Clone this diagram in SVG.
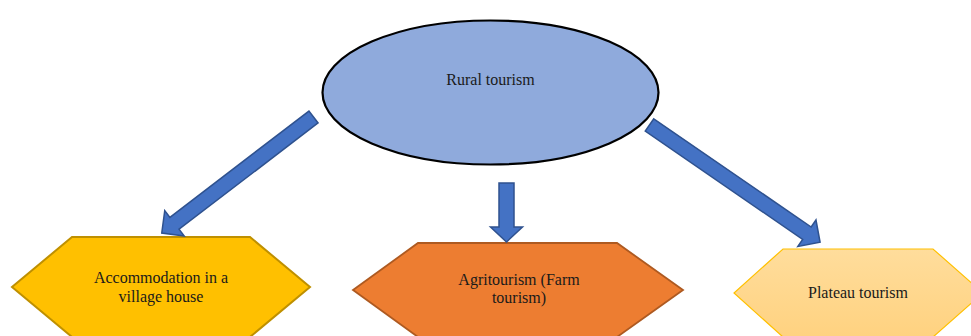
<svg xmlns="http://www.w3.org/2000/svg" width="971" height="336" viewBox="0 0 971 336">
<defs>
<linearGradient id="g3" x1="0" y1="0" x2="0" y2="1">
<stop offset="0" stop-color="#FFDD9C"/>
<stop offset="1" stop-color="#FFD280"/>
</linearGradient>
</defs>
<style>
text{font-family:"Liberation Serif","Times New Roman",serif;font-size:16px;fill:#1a1a1a;text-anchor:middle}
.arrow{fill:#4472C4;stroke:#2F528F;stroke-width:1.5;stroke-linejoin:miter}
</style>
<rect width="971" height="336" fill="#ffffff"/>
<g id="rural">
<ellipse cx="490.5" cy="92.5" rx="168" ry="72" fill="#8FAADC" stroke="#000" stroke-width="2.2"/>
<text x="490.5" y="85">Rural tourism</text>
</g>
<g id="accommodation">
<polygon points="72,237 250,237 310,287 250,337 72,337 12,287" fill="#FFC000" stroke="#BF9000" stroke-width="2"/>
<text x="161" y="283">Accommodation in a</text>
<text x="161" y="302">village house</text>
</g>
<g id="agritourism">
<polygon points="418,243 617,243 683,290 617,337 418,337 353,290" fill="#ED7D31" stroke="#AE5A21" stroke-width="1.8"/>
<text x="519" y="285">Agritourism (Farm</text>
<text x="519" y="303">tourism)</text>
</g>
<g id="plateau">
<polygon points="783,249 933,249 983,293 933,337 783,337 734,293" fill="url(#g3)" stroke="#FFC000" stroke-width="1.2"/>
<text x="858" y="298">Plateau tourism</text>
</g>
<g id="connectors">
<polygon class="arrow" transform="translate(313.5,117) rotate(142.6)" points="0,-7.5 175,-7.5 175,-16 191,0 175,16 175,7.5 0,7.5"/>
<polygon class="arrow" transform="translate(506.5,183) rotate(90)" points="0,-7.5 44,-7.5 44,-16 59,0 44,16 44,7.5 0,7.5"/>
<polygon class="arrow" transform="translate(649.5,125) rotate(34.5)" points="0,-7.5 191,-7.5 191,-16 207,0 191,16 191,7.5 0,7.5"/>
</g>
</svg>
